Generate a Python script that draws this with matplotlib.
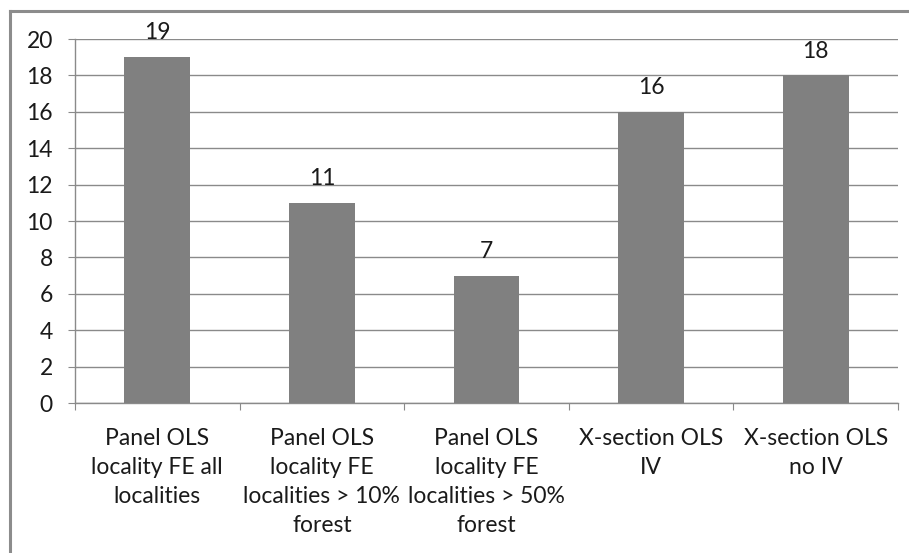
import matplotlib
matplotlib.use('Agg')
import matplotlib.pyplot as plt
from matplotlib.lines import Line2D
import numpy as np

categories = [
    "Panel OLS\nlocality FE all\nlocalities",
    "Panel OLS\nlocality FE\nlocalities > 10%\nforest",
    "Panel OLS\nlocality FE\nlocalities > 50%\nforest",
    "X-section OLS\nIV",
    "X-section OLS\nno IV",
]
values = [19, 11, 7, 16, 18]
yticks = list(range(0, 21, 2))

plt.rcParams['font.family'] = ['Lato', 'DejaVu Sans']

W, H = 909, 553
fig = plt.figure(figsize=(W / 100, H / 100), dpi=100, facecolor='white')

# 外框（右侧和底部被裁掉）
frame_col = '#8c8c8c'
fig.add_artist(Line2D([10 / W, 10 / W], [0, 1 - 11 / H], color=frame_col, lw=2.2))
fig.add_artist(Line2D([10 / W, 1], [1 - 11 / H, 1 - 11 / H], color=frame_col, lw=2.2))

ax = fig.add_axes([75 / W, 1 - 403 / H, (898 - 75) / W, (403 - 39) / H])
x = np.arange(len(categories))
bars = ax.bar(x, values, width=0.4, color='#808080', zorder=3)

ax.set_xlim(-0.5, len(categories) - 0.5)
ax.set_ylim(0, 20)
ax.set_yticks(yticks)
grid_col = '#8a8a8a'
ax.yaxis.grid(True, color=grid_col, lw=1.0, zorder=0)

for s in ['top', 'right']:
    ax.spines[s].set_visible(False)
for s in ['left', 'bottom']:
    ax.spines[s].set_color(grid_col)
    ax.spines[s].set_linewidth(1.0)

fs = 16.5
ax.tick_params(axis='y', length=5, color=grid_col, labelsize=fs, pad=11, labelcolor='#1a1a1a')
# x 轴刻度在类别边界上
ax.set_xticks(np.arange(len(categories) + 1) - 0.5)
ax.set_xticklabels([])
ax.tick_params(axis='x', length=5, color=grid_col)
for xi, lab in zip(x, categories):
    ax.annotate(lab, (xi, 0), xytext=(0, -18), textcoords='offset points',
                ha='center', va='top', fontsize=fs, linespacing=1.48, color='#1a1a1a')

for xi, v in zip(x, values):
    ax.annotate(str(v), (xi, v), xytext=(0, 10), textcoords='offset points',
                ha='center', va='bottom', fontsize=fs, color='#1a1a1a')

fig.savefig('out.png', dpi=100, facecolor='white')
